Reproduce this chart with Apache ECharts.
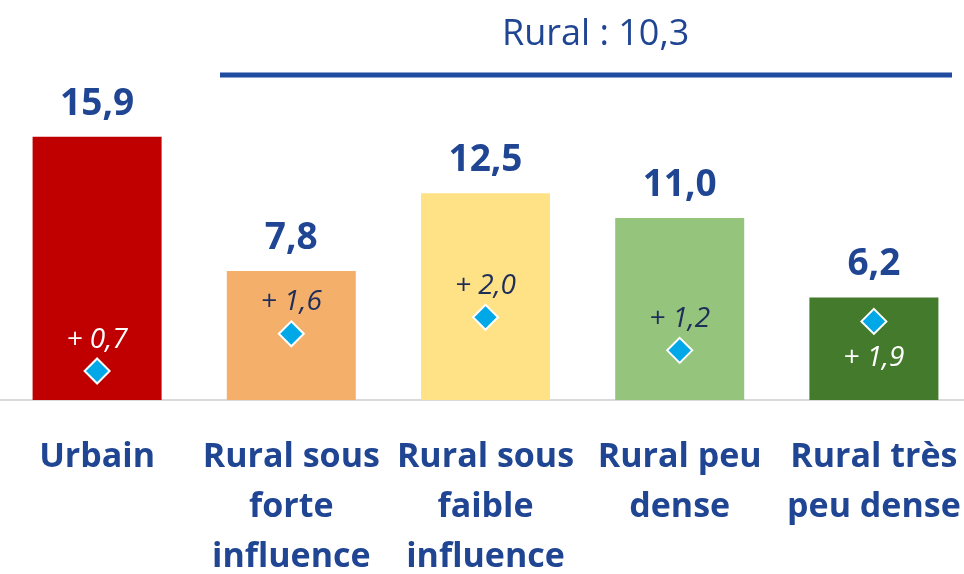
<!DOCTYPE html>
<html><head><meta charset="utf-8">
<script src="https://cdn.jsdelivr.net/npm/echarts@6/dist/echarts.min.js"></script>
<style>html,body{margin:0;padding:0;background:#fff}#c{width:964px;height:574px}</style>
</head><body><div id="c"></div>
<script>
const categories = ["Urbain", "Rural sous\nforte\ninfluence", "Rural sous\nfaible\ninfluence", "Rural peu\ndense", "Rural très\npeu dense"];
const values = [15.9, 7.8, 12.5, 11.0, 6.2];
const changes = [0.7, 1.6, 2.0, 1.2, 1.9];
const barColors = ["#C00000", "#F4B06B", "#FFE285", "#95C57C", "#437A2B"];
const changeLabelColors = ["#ffffff", "#1F2D5A", "#1F2D5A", "#1F2D5A", "#ffffff"];
const changeLabelPos = ["top", "top", "top", "top", "bottom"];
const ruralText = "Rural : 10,3";

const FONT = '"Open Sans", sans-serif';
const BLUE = "#1F4593";
const fmt = v => v.toFixed(1).replace(".", ",");

const chart = echarts.init(document.getElementById("c"));
chart.setOption({
  animation: false,
  grid: { left: 0, right: -7, top: 69, bottom: 174, outerBoundsMode: "none", containLabel: false },
  xAxis: {
    type: "category", data: categories,
    axisTick: { show: false },
    axisLine: { lineStyle: { color: "#D9D9D9", width: 2 } },
    axisLabel: { color: BLUE, fontFamily: FONT, fontWeight: "bold", fontSize: 34, lineHeight: 50, margin: 32, interval: 0 }
  },
  yAxis: [
    { type: "value", min: 0, max: 20, show: false },
    { type: "value", min: 0, max: 8, show: false }
  ],
  series: [
    {
      type: "bar", yAxisIndex: 0, barWidth: 129,
      data: values.map((v, i) => ({ value: v, itemStyle: { color: barColors[i] } })),
      label: { show: true, position: "top", distance: 14, color: BLUE, fontFamily: FONT, fontWeight: "bold", fontSize: 37, formatter: p => fmt(p.value) }
    },
    {
      type: "scatter", yAxisIndex: 1, symbol: "diamond", symbolSize: [25, 25],
      itemStyle: { color: "#00A8E8", borderColor: "#fff", borderWidth: 2, opacity: 1 },
      data: changes.map((v, i) => ({
        value: v,
        label: { show: true, position: changeLabelPos[i], distance: changeLabelPos[i] === "top" ? 4 : 9, color: changeLabelColors[i], fontFamily: FONT, fontStyle: "italic", fontSize: 28, formatter: "+ " + fmt(v) }
      })),
      z: 5
    }
  ],
  graphic: [
    { type: "text", left: 502, top: 17, style: { text: ruralText, fill: BLUE, font: '36px ' + FONT } },
    { type: "line", shape: { x1: 220, y1: 75, x2: 952, y2: 75 }, style: { stroke: "#1F4BA0", lineWidth: 5 } }
  ]
});
</script></body></html>
